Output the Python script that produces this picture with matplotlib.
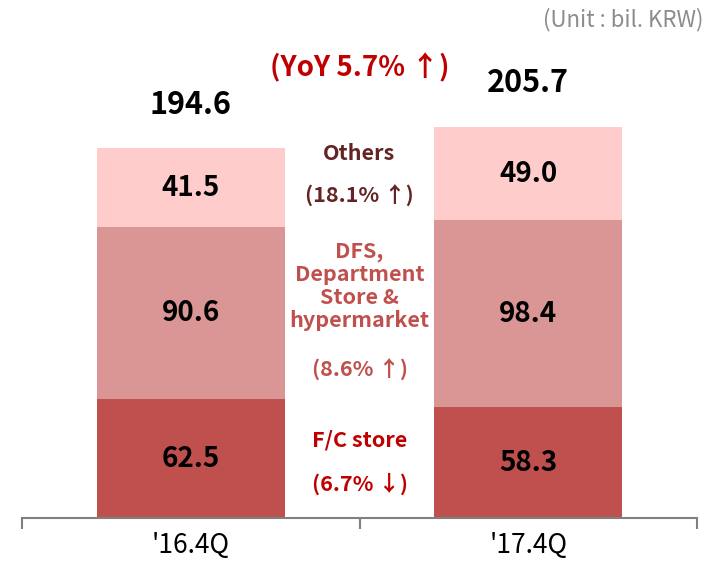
import matplotlib
matplotlib.use('Agg')
import matplotlib.pyplot as plt
import numpy as np

plt.rcParams['font.family'] = ['Noto Sans CJK KR', 'DejaVu Sans']

# data (bil. KRW)
periods = ["'16.4Q", "'17.4Q"]
fc_store = [62.5, 58.3]
dfs_dept = [90.6, 98.4]
others = [41.5, 49.0]
totals = [194.6, 205.7]

seg_names = ['F/C store', 'DFS,\nDepartment\nStore &\nhypermarket', 'Others']
seg_growth = ['(6.7% ↓)', '(8.6% ↑)', '(18.1% ↑)']
yoy_text = '(YoY 5.7% ↑)'

colors = ['#C0504D', '#D99694', '#FFCCCC']
text_colors = ['#C00000', '#C0504D', '#632423']

fig = plt.figure(figsize=(7.13, 5.62), dpi=100)
W, H = 713, 562
# axes spans x 22..697 px, y 518 (zero) .. 30 px
ax = fig.add_axes([22 / W, 44 / H, 675 / W, 488 / H])
ymax = (518 - 30) / 1.9

x = np.array([0.5, 1.5])
width = 0.557
series = [fc_store, dfs_dept, others]
bottom = np.zeros(2)
for vals, c in zip(series, colors):
    vals = np.array(vals)
    ax.bar(x, vals, width, bottom=bottom, color=c, zorder=2)
    for xi, b, v in zip(x, bottom, vals):
        ax.text(xi, b + v / 2, f'{v:.1f}', ha='center', va='center',
                fontsize=20, fontweight='bold', color='black')
    bottom = bottom + vals

# totals above bars
for xi, t in zip(x, totals):
    ax.text(xi, t + 23, f'{t:.1f}', ha='center', va='center',
            fontsize=22, fontweight='bold', color='black')

# middle labels (positions in pixel coords of the reference)
def py(p):
    return (518 - p) / 1.9

ax.text(1.0, py(68), yoy_text, ha='center', va='center', fontsize=20,
        fontweight='bold', color='#C00000')
mid = 15.5
ax.text(1.0, py(153), seg_names[2], ha='center', va='center', fontsize=mid,
        fontweight='bold', color=text_colors[2])
ax.text(1.0, py(196), seg_growth[2], ha='center', va='center', fontsize=mid,
        fontweight='bold', color=text_colors[2])
ax.text(1.0, py(286), seg_names[1], ha='center', va='center', fontsize=mid,
        fontweight='bold', color=text_colors[1], linespacing=1.1)
ax.text(1.0, py(370), seg_growth[1], ha='center', va='center', fontsize=mid,
        fontweight='bold', color=text_colors[1])
ax.text(1.0, py(440), seg_names[0], ha='center', va='center', fontsize=mid,
        fontweight='bold', color=text_colors[0])
ax.text(1.0, py(484), seg_growth[0], ha='center', va='center', fontsize=mid,
        fontweight='bold', color=text_colors[0])

fig.text(703 / W, 1 - 20 / H, '(Unit : bil. KRW)', ha='right', va='center',
         fontsize=16, color='#8C8C8C')

ax.set_xlim(0, 2)
ax.set_ylim(0, ymax)
for s in ['top', 'right', 'left']:
    ax.spines[s].set_visible(False)
ax.spines['bottom'].set_color('#808080')
ax.spines['bottom'].set_linewidth(1.5)
ax.set_yticks([])
ax.set_xticks([0, 1, 2])
ax.set_xticklabels([])
ax.tick_params(axis='x', which='major', length=8, width=1.5, color='#808080')
ax.set_xticks(x, minor=True)
ax.set_xticklabels(periods, minor=True, fontsize=19)
ax.tick_params(axis='x', which='minor', length=0, pad=10)

fig.savefig('out.png', dpi=100)
